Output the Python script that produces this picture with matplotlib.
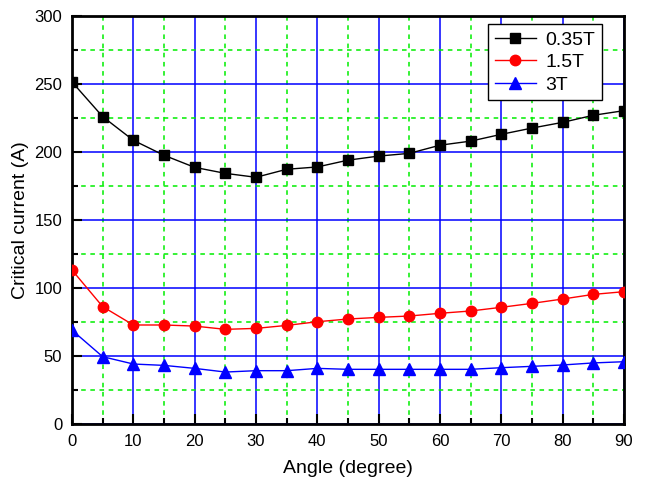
import numpy as np
import matplotlib
matplotlib.use("Agg")
import matplotlib.pyplot as plt
from matplotlib.ticker import MultipleLocator

plt.rcParams['font.family'] = ['Liberation Sans', 'DejaVu Sans']

angle = [0, 5, 10, 15, 20, 25, 30, 35, 40, 45, 50, 55, 60, 65, 70, 75, 80, 85, 90]
ic_035 = [251.5, 226, 208.6, 197.6, 188.7, 184.3, 181.4, 187.3, 189, 194, 197, 199,
          205, 208, 213, 217.6, 221.8, 227, 230.4]
ic_15 = [113.2, 86.3, 72.8, 72.8, 72, 69.6, 70.3, 72.5, 75.2, 77.2, 78.4, 79.4,
         81.4, 83.1, 85.8, 88.7, 91.9, 95.3, 97.3]
ic_3 = [69, 49.5, 44.1, 43.1, 40.9, 38.2, 39.2, 39.2, 40.9, 40.2, 40.2, 40.2,
        40.2, 40.2, 41.4, 42.4, 43.4, 44.9, 45.8]

fig = plt.figure(figsize=(6.45, 4.9), dpi=100)
ax = fig.add_axes([72/645, 66/490, 552/645, 408/490])

ax.plot(angle, ic_035, 'k-', marker='s', markersize=7, linewidth=1, label="0.35T", zorder=3)
ax.plot(angle, ic_15, 'r-', marker='o', markersize=7.5, linewidth=1, label="1.5T", zorder=3)
ax.plot(angle, ic_3, 'b-', marker='^', markersize=8, linewidth=1, label="3T", zorder=3)

ax.set_xlim(0, 90)
ax.set_ylim(0, 300)
ax.xaxis.set_major_locator(MultipleLocator(10))
ax.xaxis.set_minor_locator(MultipleLocator(5))
ax.yaxis.set_major_locator(MultipleLocator(50))
ax.yaxis.set_minor_locator(MultipleLocator(25))

ax.grid(which='major', color='#0000ff', linestyle='-', linewidth=1.1)
ax.grid(which='minor', color='#00ee00', linestyle=(0, (3, 3)), linewidth=1.1)
ax.set_axisbelow(True)

ax.tick_params(which='major', direction='in', length=7, width=1.5, labelsize=12, pad=7)
ax.tick_params(which='minor', direction='in', length=4, width=1.5)
for s in ax.spines.values():
    s.set_linewidth(2)

ax.set_xlabel('Angle (degree)', fontsize=14, labelpad=8)
ax.set_ylabel('Critical current (A)', fontsize=14, labelpad=4)

leg = ax.legend(loc='upper right', bbox_to_anchor=(0.96, 0.98), borderaxespad=0,
                fontsize=14, fancybox=False, framealpha=1, edgecolor='black',
                handlelength=2.1, borderpad=0.35, labelspacing=0.25, handletextpad=0.5)
leg.get_frame().set_linewidth(1)

plt.savefig("out.png", dpi=100)
